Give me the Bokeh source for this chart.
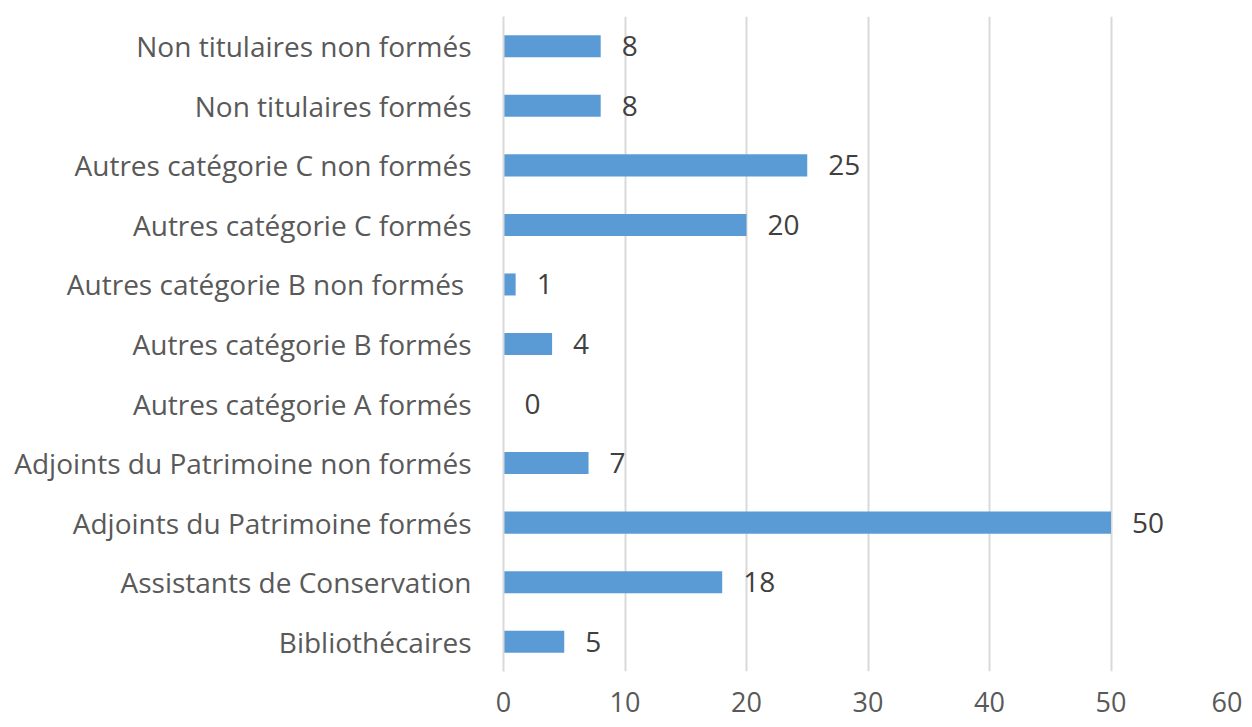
from bokeh.plotting import figure
from bokeh.models import FactorRange, Range1d, ColumnDataSource, FixedTicker
from bokeh.core.properties import value
from bokeh.embed import file_html
from bokeh.resources import INLINE

categories = [
    "Bibliothécaires",
    "Assistants de Conservation",
    "Adjoints du Patrimoine formés",
    "Adjoints du Patrimoine non formés",
    "Autres catégorie A formés",
    "Autres catégorie B formés",
    "Autres catégorie B  non formés",
    "Autres catégorie C formés",
    "Autres catégorie C non formés",
    "Non titulaires formés",
    "Non titulaires non formés",
]
values = [5, 18, 50, 7, 0, 4, 1, 20, 25, 8, 8]
x_ticks = [0, 10, 20, 30, 40, 50, 60]

FONT = "Open Sans"

src = ColumnDataSource(dict(cat=categories, val=values, lab=[str(v) for v in values]))

p = figure(
    width=1242, height=723,
    y_range=FactorRange(*categories, range_padding=0),
    x_range=Range1d(0, 60),
    output_backend="svg", toolbar_location=None,
    min_border_left=503, min_border_right=10, min_border_top=16, min_border_bottom=52,
)
p.outline_line_color = None
p.background_fill_color = "white"

p.hbar(y="cat", right="val", left=0, height=0.37, source=src,
       fill_color="#5B9BD5", line_color=None)

p.text(x="val", y="cat", text="lab", source=src, x_offset=21,
       text_baseline="middle", text_align="left",
       text_font=value(FONT), text_font_size="28px", text_color="#404040")

p.xgrid.grid_line_color = "#d9d9d9"
p.xgrid.grid_line_width = 2
p.xgrid.ticker = FixedTicker(ticks=x_ticks)
p.ygrid.grid_line_color = None

p.xaxis.ticker = FixedTicker(ticks=x_ticks)
p.xaxis.axis_line_color = None
p.xaxis.major_tick_line_color = None
p.xaxis.minor_tick_line_color = None
p.xaxis.major_label_standoff = 14
p.xaxis.major_label_text_font = FONT
p.xaxis.major_label_text_font_size = "27px"
p.xaxis.major_label_text_color = "#595959"

p.yaxis.axis_line_color = "#d9d9d9"
p.yaxis.axis_line_width = 2
p.yaxis.major_tick_line_color = None
p.yaxis.minor_tick_line_color = None
p.yaxis.major_label_standoff = 26
p.yaxis.major_label_text_font = FONT
p.yaxis.major_label_text_font_size = "28px"
p.yaxis.major_label_text_color = "#595959"

open("out.html", "w").write(file_html(p, INLINE))
